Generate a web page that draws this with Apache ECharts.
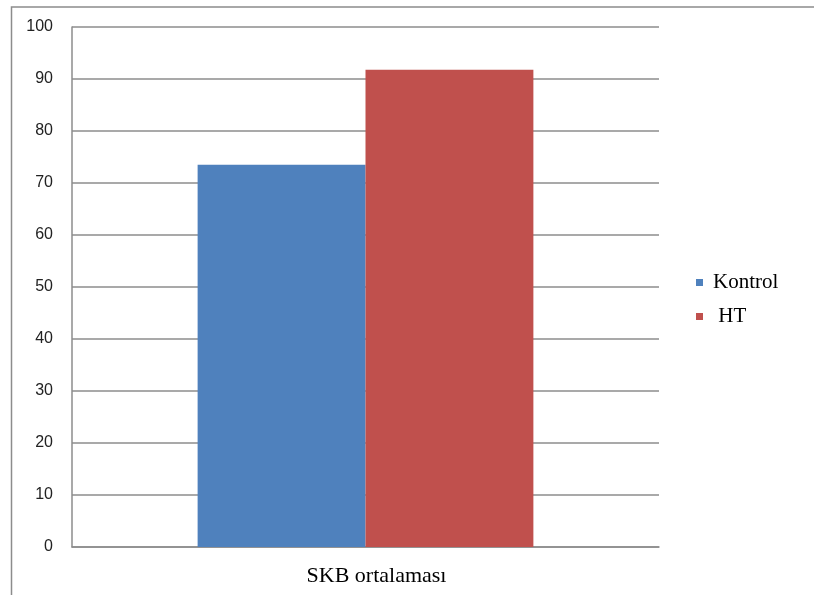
<!DOCTYPE html>
<html>
<head>
<meta charset="utf-8">
<script src="https://cdn.jsdelivr.net/npm/echarts@6/dist/echarts.min.js"></script>
<style>
  html, body { margin: 0; padding: 0; background: #fff; }
  #chart { width: 814px; height: 595px; }
</style>
</head>
<body>
<div id="chart"></div>
<script>
// Mean SKB values by group
const categories = ['SKB ortalaması'];
const seriesNames = ['Kontrol', 'HT'];
const kontrolValues = [73.5];
const htValues = [91.8];
const yTicks = { min: 0, max: 100, interval: 10 };
const colors = ['#4F81BD', '#C0504D'];

const chart = echarts.init(document.getElementById('chart'), null, { renderer: 'canvas' });

chart.setOption({
  animation: false,
  backgroundColor: '#fff',
  graphic: [{
    type: 'rect',
    left: 9, top: 4.5,
    shape: { width: 830, height: 620 },
    style: { fill: 'none', stroke: '#8c8c8c', lineWidth: 1.5 },
    silent: true
  }],
  grid: { left: 72, top: 27, right: 155, bottom: 48, containLabel: false },
  legend: {
    orient: 'vertical',
    left: 691,
    top: 267,
    itemWidth: 7,
    itemHeight: 7,
    itemGap: 13,
    icon: 'rect',
    formatter: name => name === 'HT' ? ' HT' : name,
    textStyle: {
      fontFamily: 'Liberation Serif',
      fontSize: 21,
      color: '#000',
      lineHeight: 20,
      padding: [0, 0, 0, 5]
    },
    data: seriesNames
  },
  xAxis: {
    type: 'category',
    data: categories,
    axisLine: { show: true, lineStyle: { color: '#8c8c8c', width: 1.5 } },
    axisTick: { show: false },
    axisLabel: {
      fontFamily: 'Liberation Serif',
      fontSize: 22,
      color: '#000',
      margin: 18,
      padding: [0, 0, 0, 22]
    }
  },
  yAxis: {
    type: 'value',
    min: yTicks.min,
    max: yTicks.max,
    interval: yTicks.interval,
    axisLine: { show: true, lineStyle: { color: '#8c8c8c', width: 1.5 } },
    axisTick: { show: false },
    splitLine: { show: true, lineStyle: { color: '#8c8c8c', width: 1.5 } },
    axisLabel: {
      fontFamily: 'Liberation Sans',
      fontSize: 16,
      color: '#222',
      margin: 19
    }
  },
  series: [
    {
      name: seriesNames[0],
      type: 'bar',
      data: kontrolValues,
      barGap: '0%',
      barCategoryGap: '42.8%',
      itemStyle: { color: colors[0] }
    },
    {
      name: seriesNames[1],
      type: 'bar',
      data: htValues,
      itemStyle: { color: colors[1] }
    }
  ]
});
</script>
</body>
</html>
